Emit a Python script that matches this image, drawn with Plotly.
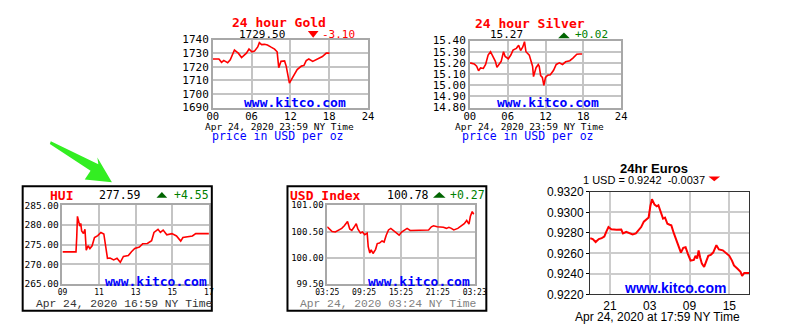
import plotly.graph_objects as go

# ---------------- data ----------------
gold_hours = [0.0, 0.5, 0.95, 1.35, 1.7, 1.95, 2.3, 2.7, 3.0, 3.35, 3.7, 3.95, 4.45, 4.8, 5.2, 5.6, 6.05, 6.45, 6.95, 7.2, 7.55, 8.0, 8.45, 8.95, 9.55, 9.95, 10.2, 10.55, 11.1, 11.35, 11.6, 11.85, 12.2, 12.55, 13.05, 13.7, 14.1, 14.45, 14.85, 15.45, 15.8, 16.2, 16.95, 17.55, 18.05]
gold_vals = [1725.7, 1725.9, 1725.7, 1723.3, 1724.6, 1724.0, 1723.0, 1725.2, 1729.0, 1732.3, 1731.0, 1730.0, 1726.8, 1728.5, 1730.0, 1733.0, 1731.0, 1731.5, 1734.6, 1737.7, 1736.3, 1736.5, 1736.0, 1734.6, 1733.0, 1731.0, 1719.4, 1724.0, 1724.3, 1720.5, 1714.0, 1708.0, 1711.0, 1713.5, 1718.0, 1720.5, 1721.0, 1724.5, 1725.7, 1724.0, 1724.8, 1725.7, 1727.5, 1730.0, 1730.0]
gold_xticks = [0, 6, 12, 18, 24]
gold_xlabels = ["00", "06", "12", "18", "24"]
gold_yticks = [1690, 1700, 1710, 1720, 1730, 1740]

silver_hours = [0.05, 0.7, 1.08, 1.38, 1.7, 2.14, 2.5, 2.9, 3.28, 3.64, 4.05, 4.3, 4.65, 4.97, 5.34, 5.6, 6.1, 6.5, 6.85, 7.38, 7.74, 8.05, 8.4, 8.67, 8.9, 9.43, 9.69, 9.95, 10.1, 10.5, 10.85, 11.0, 11.23, 11.5, 11.74, 12.0, 12.35, 12.77, 13.28, 13.7, 14.2, 14.7, 15.2, 15.85, 16.35, 16.97, 17.4, 17.8]
silver_vals = [15.20, 15.19, 15.17, 15.13, 15.155, 15.15, 15.186, 15.27, 15.30, 15.257, 15.214, 15.16, 15.186, 15.214, 15.30, 15.257, 15.237, 15.27, 15.314, 15.33, 15.357, 15.31, 15.343, 15.39, 15.30, 15.27, 15.22, 15.17, 15.077, 15.157, 15.186, 15.17, 15.086, 15.07, 15.0, 15.07, 15.09, 15.094, 15.134, 15.186, 15.20, 15.186, 15.21, 15.22, 15.243, 15.277, 15.28, 15.28]
silver_xticks = [0, 6, 12, 18, 24]
silver_xlabels = ["00", "06", "12", "18", "24"]
silver_yticks = [14.8, 14.9, 15.0, 15.1, 15.2, 15.3, 15.4]

hui_hours = [9.0, 9.74, 9.78, 9.82, 9.95, 10.0, 10.05, 10.15, 10.23, 10.3, 10.4, 10.5, 10.62, 10.75, 10.93, 11.1, 11.26, 11.37, 11.46, 11.6, 11.8, 11.98, 12.16, 12.33, 12.6, 12.77, 12.95, 13.2, 13.38, 13.64, 13.87, 14.0, 14.22, 14.35, 14.5, 14.7, 14.98, 15.23, 15.46, 15.58, 15.85, 16.1, 16.28, 17.0]
hui_vals = [273.16, 273.16, 276.8, 282.2, 279.7, 280.4, 278.5, 277.8, 278.9, 273.6, 274.7, 274.0, 274.7, 276.8, 277.3, 278.1, 277.7, 274.8, 271.5, 271.6, 271.1, 271.5, 270.5, 272.0, 272.2, 273.2, 274.0, 274.4, 275.2, 275.3, 276.0, 278.1, 278.9, 278.1, 278.7, 277.5, 277.8, 277.2, 275.9, 276.8, 277.0, 277.2, 277.8, 277.8]
hui_xticks = [9, 11, 13, 15, 17]
hui_xlabels = ["09", "11", "13", "15", "17"]
hui_yticks = [265, 270, 275, 280, 285]

usd_hours = [0.0, 0.3, 0.79, 1.31, 1.84, 2.36, 2.78, 3.3, 3.66, 4.0, 4.35, 4.72, 4.98, 5.4, 5.75, 6.1, 6.5, 6.67, 6.93, 7.15, 7.45, 7.87, 8.14, 8.5, 8.92, 9.25, 9.6, 9.97, 10.35, 10.76, 11.2, 11.7, 12.1, 12.62, 13.0, 13.5, 14.2, 15.0, 15.75, 16.5, 16.95, 17.3, 17.9, 18.9, 19.4, 19.8, 20.2, 20.6, 21.25, 21.8, 22.3, 22.7, 23.07, 23.3, 23.6, 23.85]
usd_vals = [100.59, 100.55, 100.50, 100.49, 100.52, 100.56, 100.61, 100.69, 100.55, 100.52, 100.58, 100.65, 100.55, 100.47, 100.49, 100.44, 100.47, 100.21, 100.09, 100.15, 100.08, 100.16, 100.27, 100.28, 100.32, 100.30, 100.43, 100.53, 100.56, 100.52, 100.47, 100.43, 100.49, 100.53, 100.56, 100.52, 100.52, 100.52, 100.52, 100.53, 100.59, 100.61, 100.59, 100.58, 100.56, 100.58, 100.56, 100.53, 100.56, 100.61, 100.65, 100.71, 100.64, 100.79, 100.88, 100.83]
usd_xticks = [0, 6, 12, 18, 24]
usd_xlabels = ["03:25", "09:25", "15:25", "21:25", "03:23"]
usd_yticks = [99.5, 100.0, 100.5, 101.0]

eur_hours = [0.0, 0.4, 0.83, 1.31, 1.75, 2.14, 2.43, 2.77, 3.2, 3.98, 4.7, 4.96, 5.45, 5.95, 6.41, 6.9, 7.38, 7.7, 8.1, 8.55, 8.83, 9.08, 9.33, 9.72, 10.05, 10.3, 10.65, 11.0, 11.3, 11.66, 12.0, 12.25, 12.64, 12.9, 13.22, 13.45, 13.7, 14.05, 14.4, 14.76, 15.16, 15.65, 15.9, 16.15, 16.37, 16.6, 16.86, 17.2, 17.5, 17.83, 18.2, 18.56, 19.05, 19.43, 20.02, 20.5, 21.0, 21.4, 21.7, 22.2, 22.69, 22.93, 23.25, 24.0]
eur_vals = [0.92749, 0.9274, 0.92711, 0.9274, 0.92749, 0.92764, 0.9281, 0.92857, 0.92836, 0.9283, 0.92833, 0.92795, 0.9281, 0.928, 0.92786, 0.92795, 0.9283, 0.92857, 0.9291, 0.92935, 0.92951, 0.9306, 0.93128, 0.93076, 0.9306, 0.9307, 0.92997, 0.9294, 0.9295, 0.92889, 0.9288, 0.92874, 0.92795, 0.92749, 0.92702, 0.92671, 0.92608, 0.92655, 0.92661, 0.92593, 0.9253, 0.92536, 0.92577, 0.9255, 0.9263, 0.9256, 0.925, 0.92468, 0.92515, 0.92577, 0.92586, 0.92608, 0.9268, 0.92639, 0.9263, 0.92599, 0.92577, 0.9253, 0.92483, 0.92452, 0.92421, 0.9238, 0.9241, 0.9241]
eur_xticks = [3, 9, 15, 21]
eur_xlabels = ["21", "03", "09", "15"]
eur_yticks = [0.922, 0.924, 0.926, 0.928, 0.930, 0.932]

# ---------------- layout helpers ----------------
W, H = 800, 334


def fx(x):
    return x / W


def fy(y):
    return 1 - y / H


MONO = "DejaVu Sans Mono"
COUR = "Liberation Mono"
SANS = "Liberation Sans"
RED = "#ff0000"
GREEN = "#008000"
DKGREEN = "#006400"
BLUE = "#0000ff"

fig = go.Figure()
layout = dict(width=W, height=H, margin=dict(l=0, r=0, t=0, b=0),
              paper_bgcolor="white", plot_bgcolor="white", showlegend=False,
              annotations=[], shapes=[])


def panel(n, xs, ys, box, xr, xt, xl, yr, yt, yfmt, xfont, yfont, grid, line, lw=1.5,
          ytick=False, xstand=0, width=1.6):
    x0, x1, y0, y1 = box
    xa = "xaxis" if n == 1 else "xaxis%d" % n
    ya = "yaxis" if n == 1 else "yaxis%d" % n
    xr_ = "x" if n == 1 else "x%d" % n
    yr_ = "y" if n == 1 else "y%d" % n
    layout[xa] = dict(domain=[fx(x0), fx(x1)], range=xr, anchor=yr_, tickmode="array",
                      tickvals=xt, ticktext=xl, showgrid=True, gridcolor=grid, gridwidth=1.5,
                      showline=True, mirror=True, linecolor=line, linewidth=lw, zeroline=False,
                      tickfont=xfont, ticks="", fixedrange=True, ticklabelstandoff=xstand)
    layout[ya] = dict(domain=[fy(y1), fy(y0)], range=yr, anchor=xr_, tickmode="array",
                      tickvals=yt, tickformat=yfmt, showgrid=True, gridcolor=grid, gridwidth=1.5,
                      showline=True, mirror=True, linecolor=line, linewidth=lw, zeroline=False,
                      tickfont=yfont, ticks="outside" if ytick else "", ticklen=3,
                      tickcolor="#000", fixedrange=True)
    fig.add_trace(go.Scatter(x=xs, y=ys, mode="lines", xaxis=xr_, yaxis=yr_,
                             line=dict(color=RED, width=width), hoverinfo="skip"))


def txt(x, y, s, size, color="black", family=MONO, anchor="left", bold=False):
    if bold:
        s = "<b>%s</b>" % s
    layout["annotations"].append(dict(x=fx(x), y=fy(y), xref="paper", yref="paper", text=s,
                                      showarrow=False, xanchor=anchor, yanchor="middle",
                                      borderpad=0,
                                      font=dict(family=family, size=size, color=color)))


def tri(x0, x1, ytop, ybot, up, color):
    xm = (x0 + x1) / 2
    if up:
        p = "M %f %f L %f %f L %f %f Z" % (fx(x0), fy(ybot), fx(x1), fy(ybot), fx(xm), fy(ytop))
    else:
        p = "M %f %f L %f %f L %f %f Z" % (fx(x0), fy(ytop), fx(x1), fy(ytop), fx(xm), fy(ybot))
    layout["shapes"].append(dict(type="path", xref="paper", yref="paper", path=p,
                                 fillcolor=color, line=dict(width=0)))


def rect(x0, y0, x1, y1, color, w):
    layout["shapes"].append(dict(type="rect", xref="paper", yref="paper", x0=fx(x0), x1=fx(x1),
                                 y0=fy(y1), y1=fy(y0), line=dict(color=color, width=w)))


KGRID = "#c4c4c4"
KLINE = "#a8a8a8"

# Gold
panel(1, gold_hours, gold_vals, (207, 367, 34, 105), [0, 24], gold_xticks, gold_xlabels,
      [1690, 1740], gold_yticks, "d", dict(family=MONO, size=10.5, color="black"),
      dict(family=MONO, size=11, color="black"), KGRID, KLINE, xstand=-2)
txt(275, 16.5, "24 hour Gold", 13, RED, MONO, "center", True)
txt(258, 28.5, "1729.50", 11, "black", MONO, "center")
tri(305, 316, 25, 32, False, RED)
txt(319, 28.5, "-3.10", 11, RED, MONO, "left")
txt(292, 100, "www.kitco.com", 13, BLUE, MONO, "center", True)
txt(276, 125, "Apr 24, 2020 23:59 NY Time", 9.5, "black", MONO, "center")
txt(274, 135, "price in USD per oz", 11.5, BLUE, MONO, "center")

# Silver
panel(2, silver_hours, silver_vals, (472, 628, 35, 105), [0, 24], silver_xticks, silver_xlabels,
      [14.8, 15.4], silver_yticks, ".2f", dict(family=MONO, size=10.5, color="black"),
      dict(family=MONO, size=11, color="black"), KGRID, KLINE, xstand=-2)
txt(534, 17.5, "24 hour Silver", 13, RED, MONO, "center", True)
txt(510, 28.5, "15.27", 11, "black", MONO, "center")
tri(563, 575, 26.5, 32.5, True, DKGREEN)
txt(579, 28.5, "+0.02", 11, GREEN, MONO, "left")
txt(553, 100, "www.kitco.com", 13, BLUE, MONO, "center", True)
txt(534, 125, "Apr 24, 2020 23:59 NY Time", 9.5, "black", MONO, "center")
txt(532, 135, "price in USD per oz", 11.5, BLUE, MONO, "center")

# HUI
rect(11, 187, 206, 317, "black", 2)
panel(3, hui_hours, hui_vals, (52, 203, 207, 289), [9, 17], hui_xticks, hui_xlabels,
      [265, 285], hui_yticks, ".2f", dict(family=MONO, size=8, color="black"),
      dict(family=MONO, size=9.5, color="black"), KGRID, KLINE)
txt(51, 196.5, "HUI", 13, RED, MONO, "center", True)
txt(111, 196.5, "277.59", 11.5, "black", MONO, "center")
tri(149, 160, 193, 199, True, DKGREEN)
txt(166, 196.5, "+4.55", 11.5, GREEN, MONO, "left")
txt(148, 286, "www.kitco.com", 13, BLUE, MONO, "center", True)
txt(115, 310, "Apr 24, 2020 16:59 NY Time", 11.3, "#333333", COUR, "center")

# USD Index
rect(284, 187, 489, 317, "black", 2)
panel(4, usd_hours, usd_vals, (325, 477, 207, 289), [0, 24], usd_xticks, usd_xlabels,
      [99.5, 101.0], usd_yticks, ".2f", dict(family=MONO, size=8, color="black"),
      dict(family=MONO, size=9, color="black"), KGRID, KLINE)
txt(286, 196.5, "USD Index", 13, RED, MONO, "left", True)
txt(408, 196.5, "100.78", 11.5, "black", MONO, "center")
tri(434, 447, 193, 199, True, DKGREEN)
txt(450, 196.5, "+0.27", 11.5, GREEN, MONO, "left")
txt(420, 286, "www.kitco.com", 13, BLUE, MONO, "center", True)
txt(388, 310, "Apr 24, 2020 03:24 NY Time", 11.3, "#808080", COUR, "center")

# Euros
panel(5, eur_hours, eur_vals, (596, 760, 193, 300), [0, 24], eur_xticks, eur_xlabels,
      [0.922, 0.932], eur_yticks, ".4f", dict(family=SANS, size=12, color="black"),
      dict(family=SANS, size=12, color="black"), "#cccccc", "#333333", 1.2, True, width=2)
txt(662, 169, "24hr Euros", 13, "black", SANS, "center", True)
txt(652, 180.5, "1 USD = 0.9242  -0.0037", 11, "black", SANS, "center")
tri(718, 730, 177, 182, False, RED)
txt(683, 293, "www.kitco.com", 14, BLUE, SANS, "center", True)
txt(665, 324, "Apr 24, 2020 at 17:59 NY Time", 12, "black", SANS, "center")

# Green arrow
arrow = [(40, 140), (89, 164), (88, 157), (103, 183), (75, 180), (81, 171), (39, 143)]
path = "M " + " L ".join("%f %f" % (fx(a), fy(b)) for a, b in arrow) + " Z"
layout["shapes"].append(dict(type="path", xref="paper", yref="paper", path=path,
                             fillcolor="#33ee22", line=dict(width=0)))

fig.update_layout(**layout)
fig.write_html("out.html", config={"responsive": False, "displayModeBar": False},
               post_script="document.body.style.margin='0';document.body.style.overflow='hidden';")
